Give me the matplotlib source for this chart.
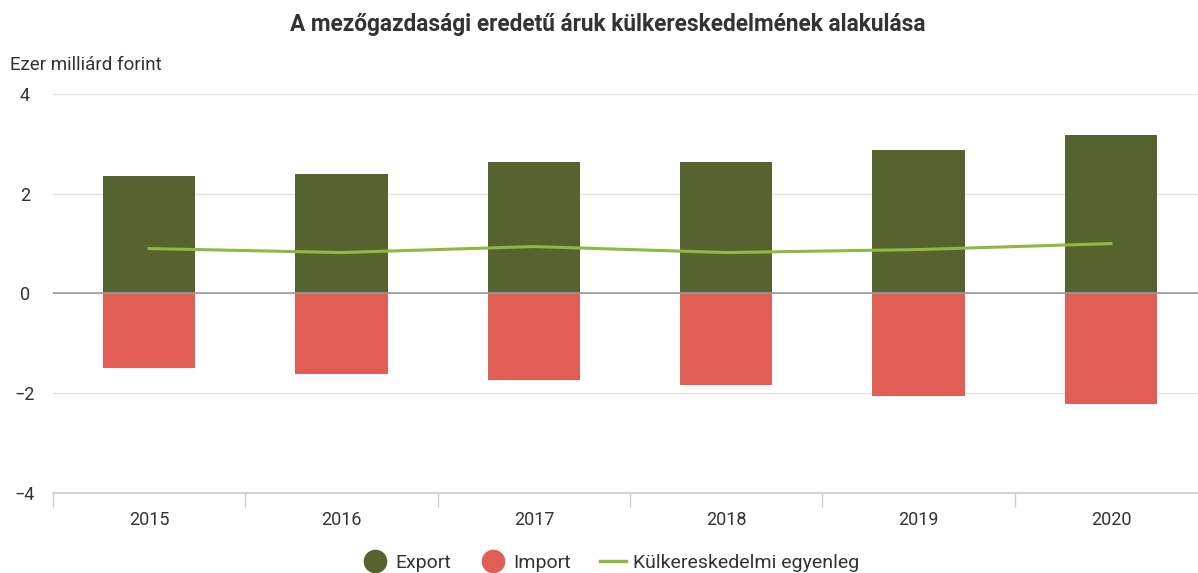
import numpy as np
import matplotlib.pyplot as plt
from matplotlib.lines import Line2D

plt.rcParams['font.family'] = ['Roboto', 'DejaVu Sans']

years = ['2015', '2016', '2017', '2018', '2019', '2020']
export = [2.36, 2.40, 2.64, 2.64, 2.88, 3.18]
imports = [-1.50, -1.62, -1.74, -1.84, -2.06, -2.22]
balance = [0.90, 0.82, 0.94, 0.82, 0.88, 1.00]

c_export = '#56632f'
c_import = '#e05e55'
c_line = '#8dba3c'

fig = plt.figure(figsize=(11.98, 5.73), dpi=100)
# plot area runs a little past the right edge, like the original
ax = fig.add_axes([0.0441, 0.1396, 0.9636, 0.6965])

x = np.arange(len(years))
ax.bar(x, export, width=0.48, color=c_export, zorder=3)
ax.bar(x, imports, width=0.48, color=c_import, zorder=3)
ax.plot(x, balance, color=c_line, linewidth=2.2, zorder=4)

ax.set_xlim(-0.5, len(years) - 0.5)
ax.set_ylim(-4, 4)
ax.set_yticks([-4, -2, 0, 2, 4])
ax.set_yticklabels(['\u22124', '\u22122', '0', '2', '4'])
ax.yaxis.grid(True, color='#e3e3e3', linewidth=1, zorder=0)
ax.axhline(0, color='#9a9a9a', linewidth=1.2, zorder=5)

# ticks between categories, labels at centres
ax.set_xticks(np.arange(-0.5, len(years)), minor=False)
ax.set_xticklabels([])
ax.set_xticks(x, minor=True)
ax.set_xticklabels(years, minor=True)
ax.tick_params(axis='x', which='major', length=10, color='#cccccc', width=1)
ax.tick_params(axis='x', which='minor', length=0, pad=13, labelsize=13, labelcolor='#333333')
ax.tick_params(axis='y', length=0, pad=20, labelsize=13, labelcolor='#333333')
for lab in ax.get_yticklabels():
    lab.set_horizontalalignment('center')

for s in ['top', 'right', 'left']:
    ax.spines[s].set_visible(False)
ax.spines['bottom'].set_color('#cccccc')
ax.spines['bottom'].set_linewidth(1.2)

fig.text(0.507, 0.958, 'A mezőgazdasági eredetű áruk külkereskedelmének alakulása',
         ha='center', va='center', fontsize=16.3, fontweight='bold', color='#333333')
fig.text(0.008, 0.886, 'Ezer milliárd forint', ha='left', va='center',
         fontsize=13.5, color='#333333')

handles = [
    Line2D([], [], marker='o', linestyle='none', markersize=16, color=c_export),
    Line2D([], [], marker='o', linestyle='none', markersize=16, color=c_import),
    Line2D([], [], color=c_line, linewidth=2.4),
]
fig.legend(handles, ['Export', 'Import', 'Külkereskedelmi egyenleg'],
           loc='center', bbox_to_anchor=(0.51, 0.018), ncol=3, frameon=False,
           fontsize=14, handlelength=1.3, handletextpad=0.4, columnspacing=1.5,
           labelcolor='#333333')

fig.savefig('out.png', dpi=100)
